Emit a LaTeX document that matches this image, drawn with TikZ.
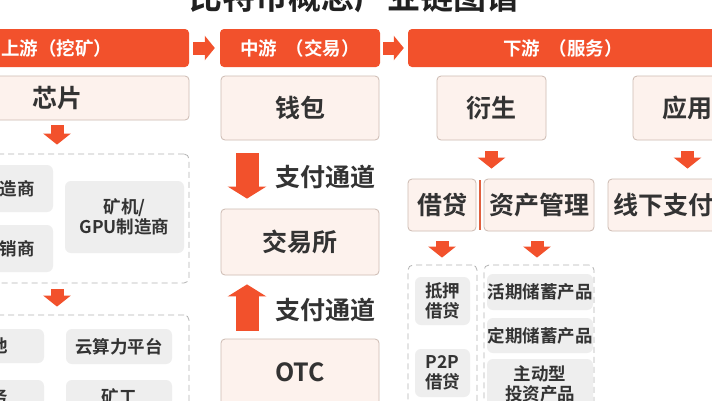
\documentclass[tikz,border=0pt]{standalone}
\usepackage{fontspec}
\setmainfont{Noto Sans CJK SC}[BoldFont={Noto Sans CJK SC Bold}]
\usetikzlibrary{arrows.meta}
\definecolor{hdr}{HTML}{F2512C}
\definecolor{bodyfill}{HTML}{FDF2ED}
\definecolor{bodyline}{HTML}{CDBBB2}
\definecolor{grayfill}{HTML}{EEEEEE}
\definecolor{dashc}{HTML}{B3B3B3}
\definecolor{textc}{HTML}{333333}
\definecolor{sepc}{HTML}{E0603F}
\tikzset{
  header/.style={fill=hdr, rounded corners=4pt, text=white, inner sep=0pt,
    font=\bfseries\fontsize{18.5}{22}\selectfont},
  bodybox/.style={draw=bodyline, fill=bodyfill, rounded corners=4pt, line width=0.8pt,
    text=textc, inner sep=0pt, font=\bfseries\fontsize{25}{30}\selectfont},
  graybox/.style={fill=grayfill, rounded corners=6pt, text=textc, inner sep=0pt,
    align=center, font=\bfseries\fontsize{17.5}{20}\selectfont},
  dashbox/.style={draw=dashc, dash pattern=on 6pt off 4pt, rounded corners=5pt,
    line width=0.8pt, inner sep=0pt},
  lbl/.style={text=textc, inner sep=0pt, font=\bfseries\fontsize{25}{30}\selectfont},
  harrow/.style={draw=hdr, line width=13pt, -{Triangle[width=24pt,length=10pt]}},
  sarrow/.style={draw=hdr, line width=13pt, -{Triangle[width=27pt,length=11pt]}},
  barrow/.style={draw=hdr, line width=23pt, -{Triangle[width=38pt,length=12pt]}},
}
\begin{document}
\begin{tikzpicture}[x=1pt,y=-1pt]
\useasboundingbox (0,0) rectangle (712,400);
\clip (0,0) rectangle (712,400);
\fill[white] (0,0) rectangle (712,400);

% title
\node[anchor=base, inner sep=0pt, text=black!87, font=\bfseries\fontsize{33}{36}\selectfont] (title) at (354,9) {比特币概念产业链图谱};

% header bars
\node[header, minimum width=264pt, minimum height=38pt] (hu) at (57,48) {上游（挖矿）};
\node[header, minimum width=160pt, minimum height=38pt] (hm) at (300,48) {中游\hspace{9pt}（交易）};
\node[header, minimum width=310pt, minimum height=38pt] (hd) at (563,48) {下游\hspace{9pt}（服务）};
\draw[harrow, shorten <=4pt, shorten >=5pt] (hu.east) -- (hm.west);
\draw[harrow, shorten <=3pt, shorten >=4pt] (hm.east) -- (hd.west);

% upstream
\node[bodybox, minimum width=264pt, minimum height=44pt] (chip) at (57,98) {芯片};
\node[dashbox, minimum width=264pt, minimum height=129pt] (u1) at (57,218.5) {};
\node[dashbox, minimum width=264pt, minimum height=110pt] (u2) at (57,370) {};
\node[graybox, minimum width=124pt, minimum height=47pt] (g1) at (-9,188.5) {芯片制造商};
\node[graybox, minimum width=124pt, minimum height=47pt] (g2) at (-9,248.5) {芯片经销商};
\node[graybox, minimum width=119pt, minimum height=72pt] (g3) at (124.5,217) {矿机/\\GPU制造商};
\node[graybox, minimum width=106pt, minimum height=34pt] (g4) at (-9,346) {矿池};
\node[graybox, minimum width=106pt, minimum height=35pt] (g5) at (119,346.5) {云算力平台};
\node[graybox, minimum width=106pt, minimum height=34pt] (g6) at (-9,397) {服务};
\node[graybox, minimum width=106pt, minimum height=34pt] (g7) at (119,397) {矿工};
\draw[sarrow, shorten <=5pt, shorten >=9pt] (chip.south) -- (u1.north);
\draw[sarrow, shorten <=6pt, shorten >=8pt] (u1.south) -- (u2.north);

% midstream
\node[bodybox, minimum width=158pt, minimum height=64pt] (wallet) at (300,108) {钱包};
\node[bodybox, minimum width=158pt, minimum height=66pt] (exch) at (300,242) {交易所};
\node[bodybox, minimum width=158pt, minimum height=66pt] (otc) at (300,372) {OTC};
\draw[barrow, shorten <=13pt, shorten >=10pt] ([xshift=-53pt]wallet.south) -- ([xshift=-53pt]exch.north);
\draw[barrow, shorten <=8pt, shorten >=9pt] ([xshift=-53pt]otc.north) -- ([xshift=-53pt]exch.south);
\node[lbl] (l1) at (325,177) {支付通道};
\node[lbl] (l2) at (325,310) {支付通道};

% downstream
\node[bodybox, minimum width=109pt, minimum height=64pt] (ys) at (491.5,108) {衍生};
\node[bodybox, minimum width=109pt, minimum height=64pt] (yy) at (687.5,108) {应用};
\node[bodybox, minimum width=68pt, minimum height=52pt] (jd) at (442,205) {借贷};
\node[bodybox, minimum width=110pt, minimum height=52pt] (zc) at (539,205) {资产管理};
\node[bodybox, minimum width=110pt, minimum height=52pt] (xx) at (663,205) {线下支付};
\coordinate (s1) at (480,180);
\coordinate (s2) at (480,230);
\draw[sepc, line width=1.5pt] (s1) -- (s2);
\draw[sarrow, shorten <=11pt, shorten >=10pt] (ys.south) -- (ys.south |- jd.north);
\draw[sarrow, shorten <=11pt, shorten >=10pt] (yy.south) -- (yy.south |- xx.north);

\node[dashbox, minimum width=69pt, minimum height=160pt] (da) at (442.5,345) {};
\node[dashbox, minimum width=110pt, minimum height=160pt] (db) at (539,345) {};
\draw[sarrow, shorten <=10pt, shorten >=7pt] (jd.south) -- (jd.south |- da.north);
\draw[sarrow, shorten <=10pt, shorten >=7pt] ([xshift=-2pt]zc.south) -- ([xshift=-2pt]zc.south |- db.north);

\node[graybox, minimum width=55pt, minimum height=48pt] (g8) at (442.5,301) {抵押\\借贷};
\node[graybox, minimum width=55pt, minimum height=48pt] (g9) at (442.5,373) {P2P\\借贷};
\node[graybox, minimum width=106pt, minimum height=36pt] (g10) at (540,292) {活期储蓄产品};
\node[graybox, minimum width=106pt, minimum height=35pt] (g11) at (540,335.5) {定期储蓄产品};
\node[graybox, minimum width=106pt, minimum height=49pt] (g12) at (540,383.5) {主动型\\投资产品};
\end{tikzpicture}
\end{document}
